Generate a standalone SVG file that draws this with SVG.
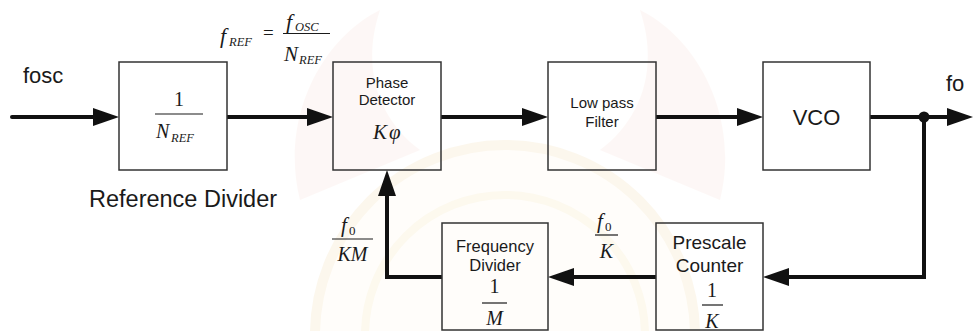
<svg xmlns="http://www.w3.org/2000/svg" width="974" height="331" viewBox="0 0 974 331">
  <style>
    .box { fill: none; stroke: #333; stroke-width: 1.5; }
    .wire { fill: none; stroke: #111; stroke-width: 4; stroke-linejoin: miter; }
    .lbl { font-family: "Liberation Sans", Arial, sans-serif; fill: #1a1a1a; }
    .m { font-family: "Liberation Serif", "Times New Roman", serif; font-style: italic; fill: #1a1a1a; }
    .n { font-family: "Liberation Serif", "Times New Roman", serif; fill: #1a1a1a; }
    .bar { stroke: #1a1a1a; stroke-width: 1.2; }
  </style>
  <defs>
    <marker id="ah" viewBox="0 0 26 18" refX="16" refY="9" markerWidth="26" markerHeight="18" markerUnits="userSpaceOnUse" orient="auto">
      <path d="M0,0 L26,9 L0,18 Z" fill="#111"/>
    </marker>
  </defs>
  <rect width="974" height="331" fill="#ffffff"/>
  <g id="watermark" opacity="0.3">
    <circle cx="505" cy="335" r="190" fill="#fffaf0" stroke="#f7e6c4" stroke-width="10"/>
    <circle cx="505" cy="335" r="140" fill="none" stroke="#f9ecc8" stroke-width="8"/>
    <path d="M300,200 C280,120 320,40 380,10 C360,70 380,120 420,150 Z" fill="#fbe8e2"/>
    <path d="M720,200 C740,120 700,40 640,10 C660,70 640,120 600,150 Z" fill="#fbe8e2"/>
  </g>

  <g id="connectors">
    <path class="wire" d="M12,117 H109" marker-end="url(#ah)" stroke-linecap="round"/>
    <path class="wire" d="M227,117 H323" marker-end="url(#ah)"/>
    <path class="wire" d="M441,117 H538" marker-end="url(#ah)"/>
    <path class="wire" d="M656,117 H753" marker-end="url(#ah)"/>
    <path class="wire" d="M870,117 H963" marker-end="url(#ah)"/>
    <circle cx="924" cy="117" r="5.5" fill="#111"/>
    <path class="wire" d="M924,117 V277 H773" marker-end="url(#ah)"/>
    <path class="wire" d="M656,277 H558" marker-end="url(#ah)"/>
    <path class="wire" d="M442,277 H387 V180" marker-end="url(#ah)"/>
  </g>

  <g id="input-label">
    <text class="lbl" x="23" y="83" font-size="22">fosc</text>
  </g>
  <g id="output-label">
    <text class="lbl" x="946" y="91" font-size="22">fo</text>
  </g>

  <g id="fref-label">
    <text class="m" x="220" y="43" font-size="22">f</text>
    <text class="m" x="229" y="46" font-size="12.5">REF</text>
    <text class="n" x="263" y="39" font-size="19">=</text>
    <text class="m" x="286" y="29" font-size="22">f</text>
    <text class="m" x="295" y="31" font-size="12.5">OSC</text>
    <line class="bar" x1="283" y1="33.5" x2="330" y2="33.5"/>
    <text class="m" x="284" y="61" font-size="21">N</text>
    <text class="m" x="299" y="64" font-size="12.5">REF</text>
  </g>

  <g id="reference-divider">
    <rect class="box" x="119" y="62" width="108" height="108"/>
    <text class="n" x="179" y="106" font-size="20" text-anchor="middle">1</text>
    <line class="bar" x1="155" y1="114" x2="203" y2="114"/>
    <text class="m" x="156" y="138" font-size="20">N</text>
    <text class="m" x="171" y="142" font-size="12.5">REF</text>
    <text class="lbl" x="89" y="207" font-size="23.5">Reference Divider</text>
  </g>

  <g id="phase-detector">
    <rect class="box" x="333" y="62" width="108" height="108"/>
    <text class="lbl" x="387" y="88" font-size="15" text-anchor="middle">Phase</text>
    <text class="lbl" x="387" y="105" font-size="15" text-anchor="middle">Detector</text>
    <text class="m" x="373" y="139" font-size="21">K</text>
    <text class="m" x="389" y="139" font-size="21">φ</text>
  </g>

  <g id="low-pass-filter">
    <rect class="box" x="548" y="62" width="108" height="108"/>
    <text class="lbl" x="602" y="108" font-size="15" text-anchor="middle">Low pass</text>
    <text class="lbl" x="602" y="127" font-size="15" text-anchor="middle">Filter</text>
  </g>

  <g id="vco">
    <rect class="box" x="763" y="62" width="107" height="108"/>
    <text class="lbl" x="816.5" y="125" font-size="22" text-anchor="middle">VCO</text>
  </g>

  <g id="prescale-counter">
    <rect class="box" x="656" y="223" width="107" height="107"/>
    <text class="lbl" x="709.5" y="249" font-size="19" text-anchor="middle">Prescale</text>
    <text class="lbl" x="709.5" y="272" font-size="19" text-anchor="middle">Counter</text>
    <text class="n" x="712" y="297" font-size="20" text-anchor="middle">1</text>
    <line class="bar" x1="702" y1="305" x2="723" y2="305"/>
    <text class="m" x="712" y="328" font-size="20" text-anchor="middle">K</text>
  </g>

  <g id="frequency-divider">
    <rect class="box" x="442" y="223" width="106" height="107"/>
    <text class="lbl" x="495" y="252" font-size="16.5" text-anchor="middle">Frequency</text>
    <text class="lbl" x="495" y="271" font-size="16.5" text-anchor="middle">Divider</text>
    <text class="n" x="494.5" y="293" font-size="20" text-anchor="middle">1</text>
    <line class="bar" x1="482" y1="303" x2="507" y2="303"/>
    <text class="m" x="494.5" y="325" font-size="20" text-anchor="middle">M</text>
  </g>

  <g id="fkm-label">
    <text class="m" x="341" y="232" font-size="21">f</text>
    <text class="n" x="349" y="235" font-size="13">0</text>
    <line class="bar" x1="332" y1="239" x2="373" y2="239"/>
    <text class="m" x="352.5" y="261" font-size="20" text-anchor="middle">KM</text>
  </g>

  <g id="fk-label">
    <text class="m" x="597" y="228" font-size="21">f</text>
    <text class="n" x="605" y="231" font-size="13">0</text>
    <line class="bar" x1="595" y1="235" x2="618" y2="235"/>
    <text class="m" x="606.5" y="258" font-size="20" text-anchor="middle">K</text>
  </g>
</svg>
